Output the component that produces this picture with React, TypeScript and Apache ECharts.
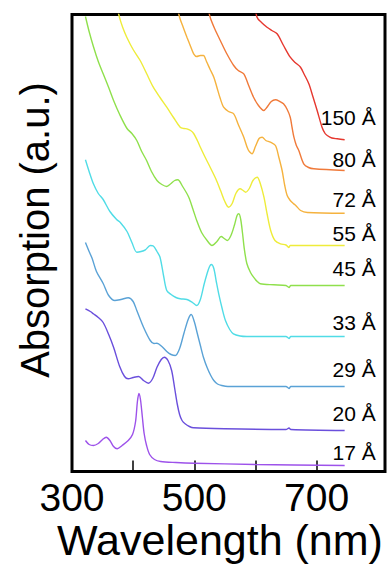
import React, { useEffect, useRef } from "react";
import * as echarts from "echarts";

// Each spectrum: [wavelength (nm), absorption (a.u., stacked offset included)]
const s17: [number, number][] = [
  [322, 0.31], [328, 0.27], [335, 0.26], [343, 0.28], [350, 0.32], [356, 0.343], [362, 0.31],
  [368, 0.25], [374, 0.227], [382, 0.26], [392, 0.31], [399, 0.37], [404, 0.5], [407, 0.7],
  [409.5, 0.78], [412, 0.72], [415, 0.55], [418, 0.38], [422, 0.26], [427, 0.17], [435, 0.12],
  [445, 0.1], [470, 0.09], [500, 0.083], [600, 0.07], [746, 0.06],
];
const s20: [number, number][] = [
  [322, 1.627], [330, 1.6], [335, 1.577], [343, 1.54], [351, 1.49], [360, 1.37], [368, 1.243],
  [378, 1.05], [386, 0.95], [392, 0.927], [400, 0.94], [409, 0.95], [417, 0.91], [425, 0.883],
  [432, 0.93], [439, 1.043], [446, 1.12], [451, 1.143], [457, 1.11], [463, 1.01], [468, 0.83],
  [472, 0.68], [476, 0.57], [480, 0.51], [485, 0.477], [492, 0.45], [499, 0.437], [550, 0.427],
  [650, 0.42], [655, 0.435], [658, 0.42], [746, 0.41],
];
const s29: [number, number][] = [
  [322, 2.29], [328, 2.2], [333, 2.13], [340, 2.0], [351, 1.88], [360, 1.76], [370, 1.71],
  [380, 1.72], [392, 1.737], [400, 1.7], [406, 1.61], [417, 1.443], [428, 1.31], [434, 1.28],
  [439, 1.283], [447, 1.25], [455, 1.2], [462, 1.17], [469, 1.16], [476, 1.23], [483, 1.38],
  [490, 1.52], [495, 1.57], [500, 1.5], [505, 1.38], [510, 1.26], [515, 1.143], [521, 1.04],
  [527, 0.96], [532, 0.91], [538, 0.875], [545, 0.86], [555, 0.85], [650, 0.85], [655, 0.83],
  [658, 0.85], [746, 0.85],
];
const s33: [number, number][] = [
  [322, 3.117], [328, 3.0], [335, 2.877], [343, 2.78], [351, 2.72], [362, 2.6], [373, 2.52],
  [379, 2.49], [390, 2.4], [398, 2.29], [406, 2.193], [413, 2.2], [420, 2.217], [428, 2.26],
  [433, 2.255], [439, 2.2], [444, 2.143], [450, 1.95], [455, 1.81], [462, 1.77], [470, 1.74],
  [477, 1.727], [488, 1.72], [497, 1.69], [504, 1.66], [510, 1.72], [516, 1.87], [521, 1.98],
  [525, 2.05], [528, 2.07], [532, 2.03], [536, 1.9], [540, 1.777], [546, 1.62], [551, 1.51],
  [558, 1.42], [564, 1.377], [575, 1.355], [586, 1.35], [650, 1.35], [655, 1.33], [658, 1.35],
  [746, 1.35],
];
const s45: [number, number][] = [
  [322, 4.55], [328, 4.4], [335, 4.25], [343, 4.1], [351, 3.977], [360, 3.84], [368, 3.71],
  [378, 3.57], [390, 3.43], [398, 3.38], [406, 3.31], [414, 3.2], [422, 3.11], [430, 3.0],
  [439, 2.91], [447, 2.87], [455, 2.85], [462, 2.88], [468, 2.91], [473, 2.917], [481, 2.85],
  [491, 2.743], [498, 2.62], [504, 2.51], [512, 2.39], [521, 2.31], [529, 2.26], [537, 2.3],
  [544, 2.35], [549, 2.33], [554, 2.31], [560, 2.36], [566, 2.47], [570, 2.56], [573, 2.577],
  [576, 2.52], [579, 2.38], [582, 2.22], [586, 2.08], [592, 1.99], [597, 1.943], [603, 1.9],
  [608, 1.877], [630, 1.867], [650, 1.86], [655, 1.84], [658, 1.86], [746, 1.86],
];
const s55: [number, number][] = [
  [366, 4.85], [377.6, 4.543], [383, 4.44], [389.6, 4.343], [400, 4.22], [411.5, 4.11],
  [422, 3.98], [433, 3.843], [444, 3.74], [455, 3.643], [466, 3.54], [477, 3.443], [483, 3.43],
  [488, 3.427], [494, 3.41], [499, 3.38], [505, 3.31], [510, 3.243], [518, 3.14], [526, 3.043],
  [535, 2.93], [543, 2.81], [550, 2.7], [556, 2.643], [562, 2.68], [568, 2.78], [575, 2.827],
  [580, 2.81], [584, 2.793], [590, 2.83], [596, 2.91], [603, 2.943], [608, 2.88], [614, 2.743],
  [619, 2.58], [625, 2.41], [632, 2.31], [641, 2.277], [650, 2.265], [654.6, 2.24], [657, 2.26],
  [746, 2.26],
];
const s72: [number, number][] = [
  [466, 4.8], [476, 4.543], [482, 4.44], [488, 4.343], [494, 4.25], [499, 4.177], [504, 4.15],
  [510, 4.16], [515, 4.16], [520, 4.1], [526, 4.02], [532, 3.943], [537, 3.843], [542, 3.74],
  [548, 3.643], [556, 3.6], [564.5, 3.577], [572, 3.47], [581, 3.343], [588, 3.22],
  [594.5, 3.177], [600, 3.25], [606, 3.33], [611, 3.343], [617, 3.31], [624.6, 3.293],
  [632.8, 3.26], [638, 3.15], [643.7, 3.01], [648, 2.86], [652, 2.76], [657, 2.71], [662, 2.68],
  [666, 2.66], [674, 2.61], [685, 2.59], [746, 2.583],
];
const s80: [number, number][] = [
  [516, 4.8], [526, 4.543], [534, 4.42], [542.6, 4.31], [553, 4.18], [564.5, 4.06], [572, 4.01],
  [581, 3.977], [589, 3.86], [597, 3.743], [605, 3.66], [613.7, 3.61], [619, 3.643], [626, 3.7],
  [632.8, 3.717], [640, 3.7], [646, 3.677], [652, 3.62], [657, 3.543], [660, 3.44], [663, 3.343],
  [667, 3.26], [671, 3.21], [679, 3.077], [687, 3.04], [695.6, 3.027], [746, 3.01],
];
const s150: [number, number][] = [
  [594, 4.8], [602.7, 4.543], [610, 4.49], [619, 4.443], [627, 4.41], [635.5, 4.377], [646, 4.26],
  [657, 4.143], [665, 4.09], [673.8, 4.043], [680, 3.97], [687.4, 3.877], [694, 3.75], [701, 3.61],
  [709, 3.443], [714, 3.38], [717.5, 3.36], [725, 3.335], [734, 3.327], [746, 3.317],
];

const SIZE_LABELS = ["17 Å", "20 Å", "29 Å", "33 Å", "45 Å", "55 Å", "72 Å", "80 Å", "150 Å"];
const SPECTRA = [s17, s20, s29, s33, s45, s55, s72, s80, s150];
const X_TICK_VALUES = [400, 500, 600, 700];
const X_LABEL_VALUES = [300, 500, 700];

// styles / layout (kept apart from data)
const COLORS = ["#9d52ea", "#6a4fdc", "#5aa2d6", "#50dce6", "#8fe04c", "#eeec3a", "#f5b23e", "#f07a3a", "#e6382f"];
const LABEL_LIFT = [13, 17, 17, 14, 17, 12, 14, 11, 22];
const FONT = "'Liberation Sans', Arial, Helvetica, sans-serif";

export default function App() {
  const ref = useRef<HTMLDivElement>(null);
  useEffect(() => {
    document.body.style.margin = "0";
    const chart = echarts.init(ref.current as HTMLDivElement, null, { renderer: "svg" });
    chart.setOption({
      animation: false,
      grid: {
        left: 72, right: 3, top: 14.5, bottom: 96.5,
        show: true, borderColor: "#000", borderWidth: 3, backgroundColor: "transparent",
      },
      xAxis: {
        type: "value", min: 300, max: 812,
        axisLine: { show: false },
        axisTick: { show: true, inside: true, length: 11, customValues: X_TICK_VALUES, lineStyle: { color: "#000", width: 1.5 } },
        axisLabel: { customValues: X_LABEL_VALUES, fontSize: 39, color: "#000", margin: 6, fontFamily: FONT },
        splitLine: { show: false },
      },
      yAxis: {
        type: "value", min: 0, max: 4.57,
        axisLine: { show: false }, axisTick: { show: false }, axisLabel: { show: false }, splitLine: { show: false },
      },
      series: SPECTRA.map((d, i) => ({
        name: SIZE_LABELS[i],
        type: "line",
        data: d,
        showSymbol: false,
        symbol: "none",
        smooth: 0.3,
        clip: true,
        lineStyle: { color: COLORS[i], width: 1.4 },
      })),
    });
    const labels = SPECTRA.map((d, i) => {
      const p = chart.convertToPixel({ gridIndex: 0 }, d[d.length - 1]) as number[];
      return {
        type: "text",
        x: p[0] + 31,
        y: p[1] - LABEL_LIFT[i],
        style: {
          text: SIZE_LABELS[i], fill: "#000", fontSize: 21, fontFamily: FONT,
          align: "right", textAlign: "right", verticalAlign: "middle", textVerticalAlign: "middle",
        },
      };
    });
    chart.setOption({
      graphic: [
        {
          type: "text", x: 35, y: 230, rotation: Math.PI / 2,
          style: {
            text: "Absorption (a.u.)", fill: "#000", fontSize: 40, fontFamily: FONT,
            align: "center", textAlign: "center", verticalAlign: "middle", textVerticalAlign: "middle",
          },
        },
        {
          type: "text", x: 220, y: 540,
          style: {
            text: "Wavelength (nm)", fill: "#000", fontSize: 43, fontFamily: FONT,
            align: "center", textAlign: "center", verticalAlign: "middle", textVerticalAlign: "middle",
          },
        },
        ...labels,
      ],
    });
    return () => chart.dispose();
  }, []);
  return <div ref={ref} style={{ width: 388, height: 568 }} />;
}
